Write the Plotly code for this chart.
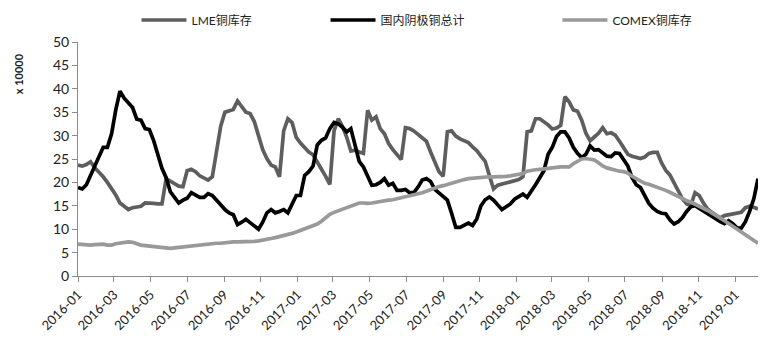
import pandas as pd
import plotly.graph_objects as go

# Weekly dates
dates = pd.date_range("2016-01-01", periods=163, freq="7D")

lme = [23.7, 23.5, 23.8, 24.4, 23.1, 22.2, 21.2, 20.0, 18.8, 17.3,
       15.6, 14.8, 14.2, 14.6, 14.8, 14.9, 15.6, 15.6, 15.5, 15.4,
       15.4, 20.8, 20.2, 19.6, 19.2, 19.1, 22.5, 22.8, 22.3, 21.4,
       20.9, 20.5, 21.2, 26.2, 32.0, 35.0, 35.4, 35.6, 37.4, 36.1,
       35.0, 34.7, 33.0, 30.0, 27.0, 25.1, 23.7, 23.3, 21.2, 31.0,
       33.6, 32.8, 29.6, 28.4, 27.4, 26.5, 25.9, 24.5, 22.8, 21.3,
       19.6, 31.0, 33.6, 32.0, 29.7, 26.7, 26.9, 26.5, 26.2, 35.4,
       33.3, 34.0, 31.5, 30.4, 28.3, 27.0, 26.0, 24.9, 31.7, 31.5,
       31.0, 30.3, 29.7, 28.8, 26.5, 24.5, 22.3, 21.3, 30.8, 31.0,
       29.9, 29.3, 28.9, 28.5, 27.6, 26.8, 25.6, 24.5, 21.5, 18.6,
       19.4, 19.6, 19.9, 20.1, 20.3, 20.6, 21.2, 30.8, 31.0, 33.6,
       33.6, 33.0, 32.3, 31.4, 31.6, 32.2, 38.3, 37.2, 35.5, 35.2,
       33.3, 30.5, 28.9, 29.7, 30.5, 31.7, 30.4, 30.6, 30.1, 28.8,
       27.4, 26.0, 25.6, 25.3, 25.1, 25.4, 26.2, 26.4, 26.4, 24.2,
       22.6, 21.6, 19.8, 18.2, 16.5, 15.4, 15.1, 17.8, 17.2, 15.6,
       14.3, 13.6, 13.0, 12.4, 12.9, 13.1, 13.3, 13.5, 13.6, 14.6,
       14.9, 14.7, 14.3]

domestic = [18.9, 18.6, 19.5, 21.5, 23.7, 25.5, 27.5, 27.5, 30.4, 35.5,
            39.5, 38.0, 37.0, 36.0, 33.5, 33.3, 31.5, 31.3, 29.0, 26.0,
            23.0, 21.0, 18.0, 16.8, 15.6, 16.2, 16.6, 17.8, 17.3, 16.8,
            16.8, 17.6, 17.2, 16.3, 15.2, 14.2, 13.5, 13.1, 11.0, 11.5,
            12.1, 11.4, 10.6, 10.0, 11.5, 13.5, 14.2, 13.5, 13.8, 14.2,
            13.5, 15.3, 17.2, 17.2, 21.5, 22.3, 23.5, 28.0, 29.0, 29.5,
            31.5, 32.8, 32.5, 31.8, 30.8, 31.5, 28.0, 24.5, 23.3, 21.5,
            19.4, 19.5, 20.0, 20.8, 19.4, 19.8, 18.3, 18.3, 18.5, 17.8,
            17.8, 19.0, 20.5, 20.8, 20.2, 18.5, 17.8, 17.0, 16.2, 13.4,
            10.4, 10.4, 10.9, 11.3, 10.8, 12.2, 15.0, 16.3, 16.9, 16.2,
            15.2, 14.2, 14.8, 15.4, 16.4, 17.0, 17.5, 16.8, 18.0, 19.5,
            21.0, 22.5, 26.0, 27.5, 29.8, 30.8, 30.8, 29.5, 27.5, 26.2,
            25.3, 26.0, 27.8, 26.9, 27.0, 26.3, 25.6, 25.5, 26.3, 26.2,
            25.0, 23.5, 21.0, 19.5, 18.9, 17.2, 15.5, 14.5, 13.8, 13.4,
            13.3, 12.0, 11.1, 11.6, 12.5, 13.8, 14.8, 15.0, 14.4, 13.8,
            13.2, 12.8, 12.2, 11.6, 11.2, 11.8, 11.2, 10.3, 10.2, 11.6,
            13.8, 16.5, 20.8]

comex = [6.8, 6.7, 6.7, 6.6, 6.7, 6.8, 6.8, 6.6, 6.6, 6.9,
         7.1, 7.2, 7.3, 7.2, 6.8, 6.6, 6.5, 6.4, 6.3, 6.2,
         6.0, 5.9, 5.9, 6.0, 6.1, 6.2, 6.3, 6.4, 6.6, 6.7,
         6.8, 6.8, 6.9, 7.0, 7.0, 7.1, 7.3, 7.3, 7.3, 7.3,
         7.3, 7.4, 7.4, 7.5, 7.6, 7.8, 8.0, 8.2, 8.4, 8.6,
         8.9, 9.1, 9.4, 9.7, 10.1, 10.5, 10.7, 11.1, 11.7, 12.4,
         13.2, 13.6, 13.9, 14.2, 14.5, 14.9, 15.3, 15.6, 15.6, 15.5,
         15.6, 15.8, 15.9, 16.0, 16.2, 16.3, 16.5, 16.7, 16.9, 17.0,
         17.2, 17.5, 17.8, 18.1, 18.5, 18.8, 19.1, 19.3, 19.6, 19.9,
         20.1, 20.3, 20.6, 20.8, 20.9, 21.0, 21.1, 21.1, 21.2, 21.2,
         21.2, 21.3, 21.3, 21.4, 21.5, 21.6, 21.9, 22.4, 22.6, 22.7,
         22.8, 22.9, 23.1, 23.2, 23.3, 23.3, 23.3, 23.3, 24.0, 24.6,
         25.0, 25.1, 25.0, 24.8, 24.2, 23.5, 23.1, 22.8, 22.5, 22.4,
         22.3, 22.0, 21.3, 20.8, 20.2, 19.8, 19.6, 19.3, 19.1, 18.7,
         18.3, 17.9, 17.4, 17.0, 16.5, 16.1, 15.8, 15.4, 15.0, 14.5,
         14.0, 13.5, 13.0, 12.4, 11.8, 11.2, 10.6, 10.0, 9.4, 8.7,
         8.1, 7.5, 7.0]

series_names = ["LME铜库存", "国内阴极铜总计", "COMEX铜库存"]
y_ticks = [0, 5, 10, 15, 20, 25, 30, 35, 40, 45, 50]

FONT = "Lato, 'Noto Sans CJK SC', sans-serif"
AX = "#8c8c8c"

fig = go.Figure()
fig.add_trace(go.Scatter(x=dates, y=lme, mode="lines", name=series_names[0],
                         line=dict(color="#5e5e5e", width=3.7), legend="legend"))
fig.add_trace(go.Scatter(x=dates, y=domestic, mode="lines", name=series_names[1],
                         line=dict(color="#000000", width=3.7), legend="legend2"))
fig.add_trace(go.Scatter(x=dates, y=comex, mode="lines", name=series_names[2],
                         line=dict(color="#999999", width=3.7), legend="legend3"))

leg_common = dict(orientation="h", yanchor="middle", xanchor="left", itemwidth=45,
                  bgcolor="rgba(0,0,0,0)", font=dict(family=FONT, size=12, color="#222"))
fig.update_layout(
    width=754, height=344,
    margin=dict(l=70, r=4, t=34, b=76, autoexpand=False),
    paper_bgcolor="white", plot_bgcolor="white",
    font=dict(family=FONT, size=13, color="#222"),
    showlegend=True,
    legend=dict(x=0.086, y=1.094, **leg_common),
    legend2=dict(x=0.364, y=1.094, **leg_common),
    legend3=dict(x=0.705, y=1.094, **leg_common),
    xaxis=dict(type="date", range=["2016-01-01", str(dates[-1].date())],
               tick0="2016-01-01", dtick="M2", tickformat="%Y-%m", tickangle=-45,
               showgrid=False, showline=True, linecolor=AX, linewidth=1,
               ticks="outside", tickcolor=AX, ticklen=5, automargin=False,
               tickfont=dict(family=FONT, size=13, color="#222"), zeroline=False),
    yaxis=dict(range=[0, 50], tickvals=y_ticks, showgrid=False, showline=True,
               linecolor=AX, linewidth=1, ticks="outside", tickcolor=AX, ticklen=5,
               automargin=False,
               tickfont=dict(family=FONT, size=14, color="#222"), zeroline=False),
    annotations=[dict(text="<b>x 10000</b>", textangle=-90, xref="paper", yref="paper",
                      x=-0.088, y=0.863, xanchor="center", yanchor="middle",
                      showarrow=False, font=dict(family=FONT, size=11, color="#222"))],
)

fig.write_html("out.html")
